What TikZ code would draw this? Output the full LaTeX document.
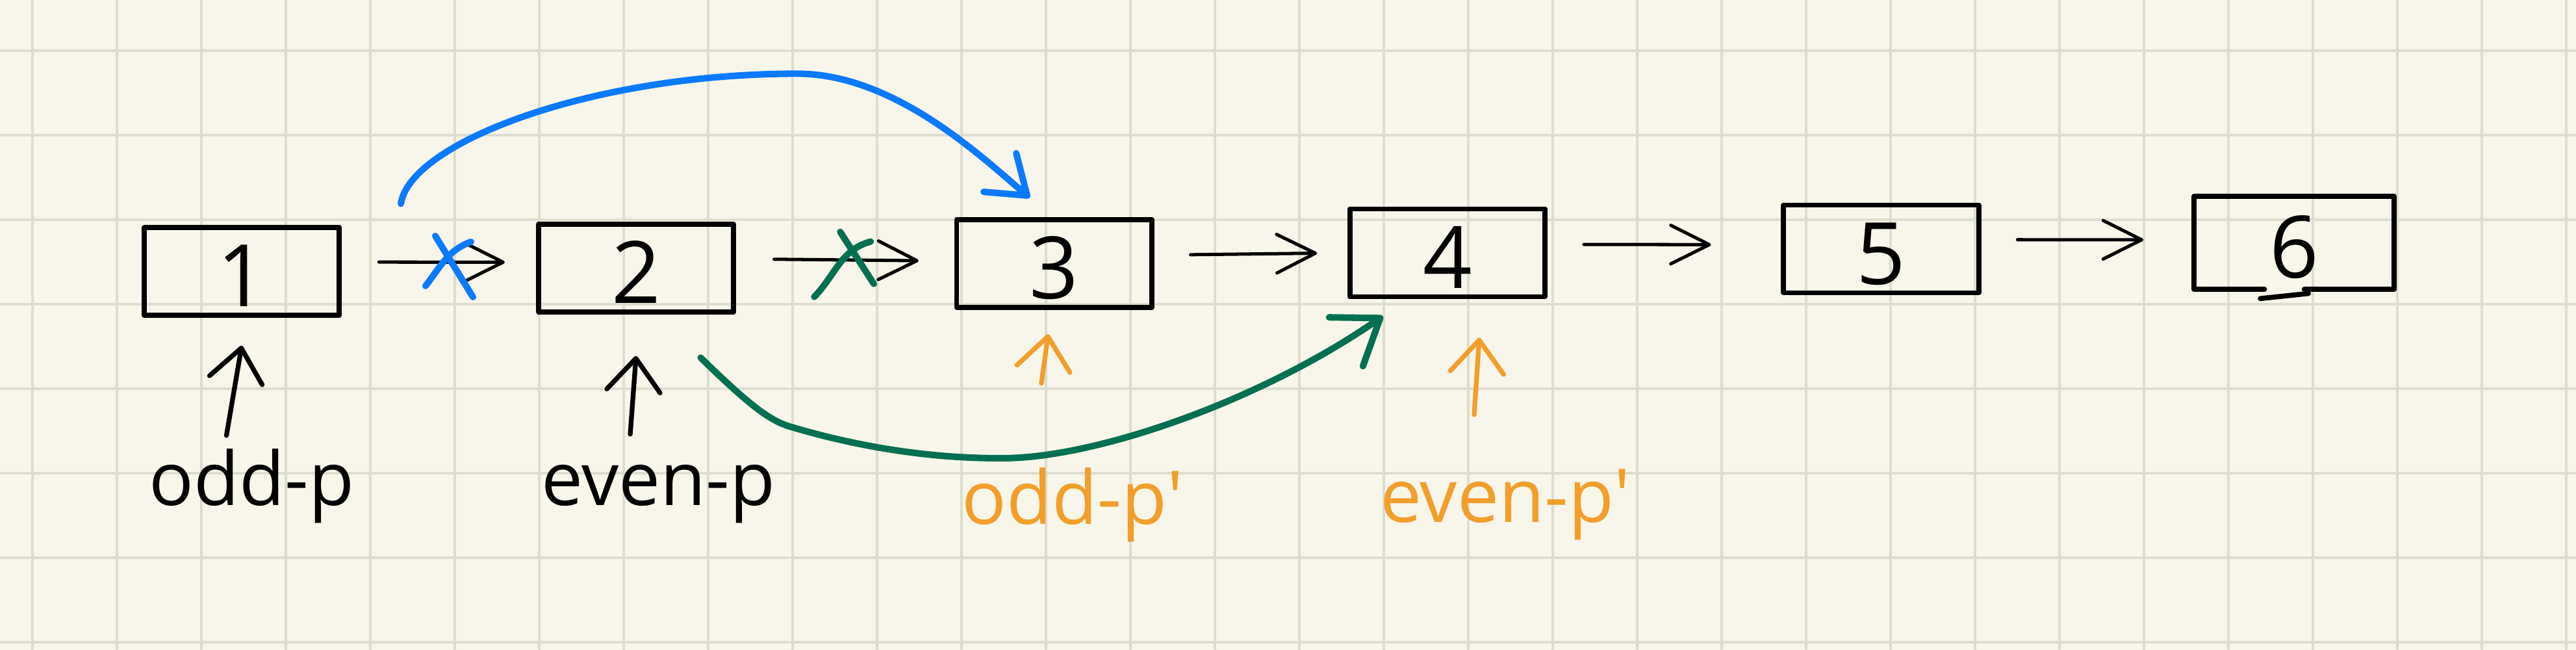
\documentclass[tikz,border=0pt]{standalone}
\usepackage{fontspec}
\newfontfamily\handfont{Open Sans}
\usetikzlibrary{arrows.meta,positioning}
\definecolor{paper}{RGB}{248,246,234}
\definecolor{gridline}{RGB}{221,221,207}
\definecolor{penblue}{RGB}{10,122,255}
\definecolor{pengreen}{RGB}{0,112,80}
\definecolor{penorange}{RGB}{243,158,42}
\begin{document}
\begin{tikzpicture}[line join=round, line cap=round,
	box/.style={draw, line width=1.7pt, minimum width=2.31cm, minimum height=1.04cm, inner sep=0pt,
		font=\handfont\fontsize{29}{30}\selectfont, text height=23.8pt, text depth=0pt},
	lbl/.style={anchor=base, inner sep=0pt, font=\handfont\fontsize{25}{28}\selectfont},
	link/.style={line width=1.1pt, -{Straight Barb[round,length=13pt,width=13pt]}},
	ptr/.style={line width=1.6pt, -{Straight Barb[round,length=11pt,width=18pt]}},
	pen/.style={line width=2.2pt}]
		\def\W{30.5} \def\H{7.6923} % khung
		\useasboundingbox (0,0) rectangle (\W,\H);
		\fill[paper] (0,0) rectangle (\W,\H);
		\foreach \x in {0,...,30}
		\draw[gridline,line width=1pt,line cap=butt] (\x+0.3846,0)--(\x+0.3846,\H);
		\foreach \y in {0,...,7}
		\draw[gridline,line width=1pt,line cap=butt] (0,\y+0.0923)--(\W,\y+0.0923);
		% cac nut
		\node[box] (n1) at (2.862,4.481) {1};
		\node[box] (n2) at (7.531,4.519) {2};
		\node[box] (n3) at (12.481,4.573) {3};
		\node[box] (n4) at (17.138,4.700) {4};
		\node[box] (n5) at (22.273,4.746) {5};
		\node[box,draw=none] (n6) at (27.162,4.819) {6};
		\draw[line width=1.7pt] ([xshift=-0.35cm]n6.south)--(n6.south west)--(n6.north west)--(n6.north east)--(n6.south east)--([xshift=0.12cm]n6.south);
		\draw[line width=1.7pt] ([shift={(-0.4,-0.11)}]n6.south)--([shift={(0.17,-0.05)}]n6.south);
		% lien ket
		\draw[link,shorten <=0.44cm,shorten >=0.37cm] ([yshift=0.11cm]n1.east)--([yshift=0.07cm]n2.west);
		\draw[link,shorten <=0.45cm,shorten >=0.42cm] ([yshift=0.11cm]n2.east)--([yshift=0.03cm]n3.west);
		\draw[link,shorten <=0.43cm,shorten >=0.36cm] ([yshift=0.10cm]n3.east)--([yshift=0.0cm]n4.west);
		\draw[link,shorten <=0.43cm,shorten >=0.83cm] ([yshift=0.10cm]n4.east)--([yshift=0.05cm]n5.west);
		\draw[link,shorten <=0.43cm,shorten >=0.60cm] ([yshift=0.11cm]n5.east)--([yshift=0.035cm]n6.west);
		% dau gach
		\draw[pen,penblue] (5.154,4.9)--(5.6,4.177);
		\draw[pen,penblue] (5.577,4.831) to[out=200,in=52] (5.038,4.308);
		\draw[pen,pengreen] (9.948,4.948)--(10.346,4.333);
		\draw[pen,pengreen] (10.308,4.833) to[out=195,in=46] (9.641,4.179);
		% con tro moi
		\coordinate (bstart) at ([shift={(0.70,0.25)}]n1.north east);
		\draw[pen,penblue,-{Straight Barb[round,length=12pt,width=17pt]}] (bstart) .. controls (4.85,6.0) and (7.0,6.82) .. (9.44,6.82) .. controls (10.6,6.82) and (11.65,5.81) .. ([shift={(-0.29,0.23)}]n3.north);
		\draw[pen,pengreen,-{Straight Barb[round,length=14pt,width=20pt]}] ([shift={(-0.42,-0.51)}]n2.south east) .. controls (8.85,2.92) and (9.1,2.72) .. (9.35,2.645) .. controls (10.0,2.45) and (10.9,2.26) .. (11.9,2.27) .. controls (13.0,2.28) and (14.93,2.95) .. ([shift={(0.42,-0.2)}]n4.south west);
		% nhan
		\node[lbl] (oddp) at (2.981,1.708) {odd-p};
		\node[lbl] (evenp) at (7.796,1.708) {even-p};
		\node[lbl,penorange] (oddq) at (12.70,1.485) {odd-p\textquotesingle};
		\node[lbl,penorange] (evenq) at (17.82,1.511) {even-p\textquotesingle};
		\draw[ptr] ([shift={(-0.30,0.83)}]oddp.base)--([yshift=-0.33cm]n1.south);
		\draw[ptr] ([shift={(-0.334,0.846)}]evenp.base)--([yshift=-0.49cm]n2.south);
		\draw[ptr,penorange] ([shift={(-0.37,1.67)}]oddq.base)--([shift={(-0.07,-0.285)}]n3.south);
		\draw[ptr,penorange] ([shift={(-0.366,1.274)}]evenq.base)--([shift={(0.377,-0.454)}]n4.south);
		\end{tikzpicture}
\end{document}
